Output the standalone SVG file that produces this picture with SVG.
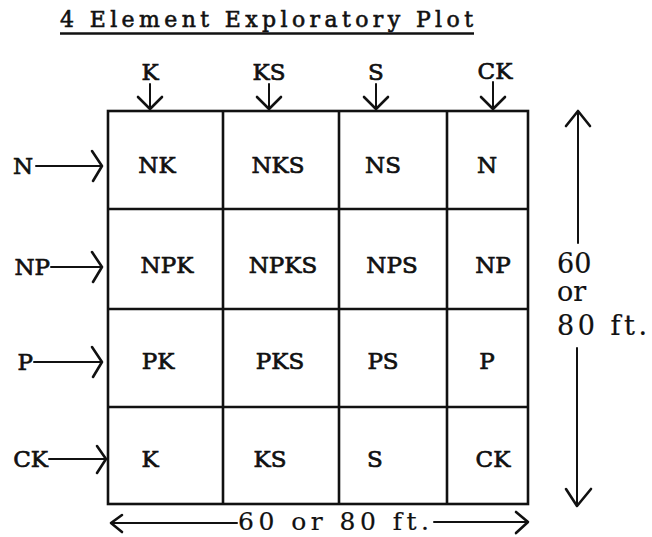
<svg xmlns="http://www.w3.org/2000/svg" width="652" height="537" viewBox="0 0 652 537">
  <style>
    text { font-family: "DejaVu Serif", "Liberation Serif", serif; font-size: 23px; fill: #111; stroke: #111; stroke-width: 0.7; }
    .c { text-anchor: middle; }
    .e { text-anchor: end; }
    .dim { font-size: 27px; stroke-width: 0.2; }
    .dimb { font-size: 25px; stroke-width: 0.2; }
    .ttl { font-size: 22px; stroke-width: 0.6; }
    .grid { fill: none; stroke: #111; stroke-width: 2.6; }
    .ln { fill: none; stroke: #111; stroke-width: 2; stroke-linecap: round; stroke-linejoin: round; }
    .hd { fill: none; stroke: #111; stroke-width: 2.6; stroke-linecap: round; stroke-linejoin: round; }
  </style>
  <rect width="652" height="537" fill="#fff"/>

  <!-- heading -->
  <g id="title">
    <text class="ttl" x="60" y="27" textLength="413" lengthAdjust="spacing">4 Element Exploratory Plot</text>
    <line x1="60" y1="33.5" x2="474" y2="33.5" stroke="#111" stroke-width="2.4"/>
  </g>

  <!-- plot grid: 4 columns x 4 rows -->
  <g id="grid" class="grid">
    <rect x="108" y="111" width="420" height="393"/>
    <line x1="223" y1="111" x2="223" y2="504"/>
    <line x1="339" y1="111" x2="339" y2="504"/>
    <line x1="447" y1="111" x2="447" y2="504"/>
    <line x1="108" y1="209" x2="528" y2="209"/>
    <line x1="108" y1="309" x2="528" y2="309"/>
    <line x1="108" y1="407" x2="528" y2="407"/>
  </g>

  <!-- plot cells -->
  <g id="cell-NK"><text class="c" x="157" y="173">NK</text></g>
  <g id="cell-NKS"><text class="c" x="278" y="173">NKS</text></g>
  <g id="cell-NS"><text class="c" x="383" y="173">NS</text></g>
  <g id="cell-N"><text class="c" x="487" y="173">N</text></g>

  <g id="cell-NPK"><text class="c" x="167" y="273">NPK</text></g>
  <g id="cell-NPKS"><text class="c" x="283" y="273">NPKS</text></g>
  <g id="cell-NPS"><text class="c" x="392" y="273">NPS</text></g>
  <g id="cell-NP"><text class="c" x="493" y="273">NP</text></g>

  <g id="cell-PK"><text class="c" x="158" y="369">PK</text></g>
  <g id="cell-PKS"><text class="c" x="280" y="369">PKS</text></g>
  <g id="cell-PS"><text class="c" x="383" y="369">PS</text></g>
  <g id="cell-P"><text class="c" x="487" y="369">P</text></g>

  <g id="cell-K"><text class="c" x="150" y="467">K</text></g>
  <g id="cell-KS"><text class="c" x="270" y="467">KS</text></g>
  <g id="cell-S"><text class="c" x="375" y="467">S</text></g>
  <g id="cell-CK"><text class="c" x="493" y="467">CK</text></g>

  <!-- column treatments -->
  <g id="col-K"><text class="c" x="150" y="80">K</text></g>
  <g id="col-KS"><text class="c" x="269" y="80">KS</text></g>
  <g id="col-S"><text class="c" x="376" y="80">S</text></g>
  <g id="col-CK"><text class="c" x="495" y="79">CK</text></g>

  <!-- row treatments -->
  <g id="row-N"><text class="e" x="33" y="174">N</text></g>
  <g id="row-NP"><text class="e" x="50" y="275">NP</text></g>
  <g id="row-P"><text class="e" x="33" y="370">P</text></g>
  <g id="row-CK"><text class="e" x="48" y="467">CK</text></g>

  <!-- dimension labels -->
  <g id="dim-side">
    <text class="dim" x="557" y="273">60</text>
    <text class="dim" x="557" y="301">or</text>
    <text class="dim" x="557" y="335" textLength="90" lengthAdjust="spacing">80 ft.</text>
  </g>
  <g id="dim-bottom">
    <text class="dimb" x="238" y="530" textLength="191" lengthAdjust="spacing">60 or 80 ft.</text>
  </g>

  <!-- connectors -->
  <g id="connectors">
    <!-- column arrows -->
    <line class="ln" x1="150" y1="84" x2="150" y2="109"/>
    <polyline class="hd" points="138,97 150,109 162,97"/>
    <line class="ln" x1="269" y1="84" x2="269" y2="109"/>
    <polyline class="hd" points="257,97 269,109 281,97"/>
    <line class="ln" x1="376" y1="84" x2="376" y2="109"/>
    <polyline class="hd" points="364,97 376,109 388,97"/>
    <line class="ln" x1="493" y1="82" x2="493" y2="109"/>
    <polyline class="hd" points="481,97 493,109 505,97"/>

    <!-- row arrows -->
    <line class="ln" x1="36" y1="166" x2="101" y2="166"/>
    <polyline class="hd" points="92,151 102,166 93,181"/>
    <line class="ln" x1="51" y1="267" x2="101" y2="267"/>
    <polyline class="hd" points="92,252 102,267 93,282"/>
    <line class="ln" x1="34" y1="362" x2="101" y2="362"/>
    <polyline class="hd" points="92,347 102,362 93,377"/>
    <line class="ln" x1="49" y1="459" x2="105" y2="459"/>
    <polyline class="hd" points="97,446 106,459 97,473"/>

    <!-- side dimension -->
    <line class="ln" x1="578" y1="112" x2="578" y2="243"/>
    <polyline class="hd" points="566,126 578,111 590,126"/>
    <line class="ln" x1="577" y1="348" x2="577" y2="505"/>
    <polyline class="hd" points="566,489 577,506 591,489"/>

    <!-- bottom dimension -->
    <line class="ln" x1="111" y1="523" x2="237" y2="523"/>
    <polyline class="hd" points="122,515 111,523 122,532"/>
    <line class="ln" x1="434" y1="522" x2="527" y2="522"/>
    <polyline class="hd" points="516,512 528,522 516,533"/>
  </g>
</svg>
